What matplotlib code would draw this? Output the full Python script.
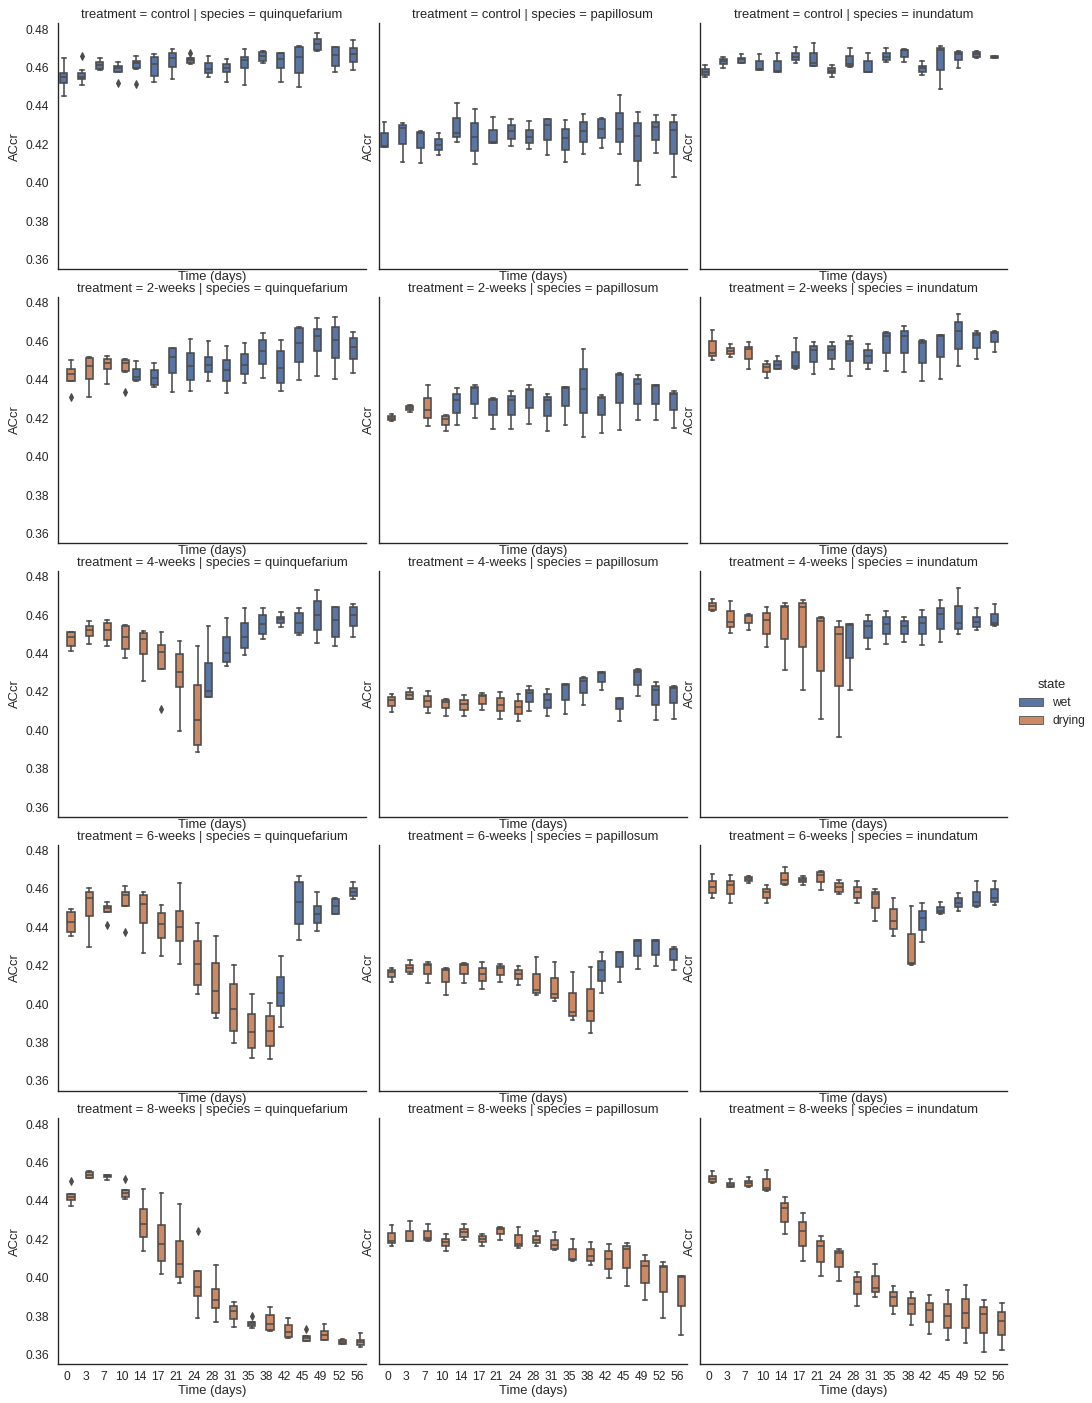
import colorsys

import matplotlib
matplotlib.use("Agg")
import matplotlib.pyplot as plt
from matplotlib.patches import Patch
from matplotlib.ticker import FormatStrFormatter

# ---------------------------------------------------------------------------
# Data: ACcr box statistics (whislo, q1, median, q3, whishi) per sampling day
# ---------------------------------------------------------------------------
days = [0, 3, 7, 10, 14, 17, 21, 24, 28, 31, 35, 38, 42, 45, 49, 52, 56]
treatments = ["control", "2-weeks", "4-weeks", "6-weeks", "8-weeks"]
species = ["quinquefarium", "papillosum", "inundatum"]
states = ["wet", "drying"]

# last day on which each treatment was still in the drying state
last_drying_day = {"control": None, "2-weeks": 10, "4-weeks": 24,
                   "6-weeks": 38, "8-weeks": 56}

control_quinquefarium = [
    (0.4452, 0.4518, 0.4548, 0.4574, 0.4649),
    (0.4510, 0.4539, 0.4553, 0.4574, 0.4588),
    (0.4588, 0.4593, 0.4612, 0.4628, 0.4649),
    (0.4575, 0.4579, 0.4600, 0.4609, 0.4630),
    (0.4593, 0.4597, 0.4626, 0.4635, 0.4661),
    (0.4523, 0.4558, 0.4617, 0.4657, 0.4671),
    (0.4539, 0.4605, 0.4652, 0.4675, 0.4696),
    (0.4619, 0.4623, 0.4638, 0.4647, 0.4649),
    (0.4550, 0.4570, 0.4593, 0.4623, 0.4661),
    (0.4527, 0.4579, 0.4595, 0.4617, 0.4645),
    (0.4510, 0.4597, 0.4640, 0.4657, 0.4696),
    (0.4623, 0.4635, 0.4661, 0.4680, 0.4684),
    (0.4527, 0.4595, 0.4643, 0.4675, 0.4678),
    (0.4497, 0.4574, 0.4654, 0.4709, 0.4714),
    (0.4687, 0.4692, 0.4723, 0.4748, 0.4777),
    (0.4579, 0.4609, 0.4663, 0.4706, 0.4709),
    (0.4588, 0.4630, 0.4670, 0.4704, 0.4744),
]

control_papillosum = [
    (0.4188, 0.4188, 0.4193, 0.4257, 0.4317),
    (0.4110, 0.4200, 0.4287, 0.4299, 0.4313),
    (0.4101, 0.4183, 0.4257, 0.4266, 0.4270),
    (0.4146, 0.4170, 0.4197, 0.4226, 0.4257),
    (0.4210, 0.4237, 0.4261, 0.4337, 0.4414),
    (0.4097, 0.4165, 0.4240, 0.4311, 0.4386),
    (0.4205, 0.4205, 0.4214, 0.4275, 0.4341),
    (0.4193, 0.4228, 0.4270, 0.4299, 0.4334),
    (0.4177, 0.4205, 0.4240, 0.4277, 0.4322),
    (0.4146, 0.4223, 0.4301, 0.4330, 0.4332),
    (0.4106, 0.4170, 0.4233, 0.4282, 0.4325),
    (0.4151, 0.4210, 0.4271, 0.4317, 0.4360),
    (0.4183, 0.4231, 0.4282, 0.4332, 0.4337),
    (0.4151, 0.4214, 0.4278, 0.4365, 0.4456),
    (0.3991, 0.4115, 0.4243, 0.4310, 0.4369),
    (0.4157, 0.4223, 0.4292, 0.4318, 0.4351),
    (0.4028, 0.4150, 0.4275, 0.4317, 0.4355),
]

control_inundatum = [
    (0.4553, 0.4562, 0.4579, 0.4591, 0.4614),
    (0.4600, 0.4617, 0.4633, 0.4643, 0.4654),
    (0.4623, 0.4624, 0.4643, 0.4652, 0.4670),
    (0.4588, 0.4588, 0.4593, 0.4635, 0.4670),
    (0.4576, 0.4576, 0.4583, 0.4635, 0.4676),
    (0.4623, 0.4638, 0.4657, 0.4678, 0.4705),
    (0.4609, 0.4609, 0.4623, 0.4675, 0.4725),
    (0.4553, 0.4569, 0.4584, 0.4597, 0.4612),
    (0.4604, 0.4609, 0.4619, 0.4661, 0.4701),
    (0.4576, 0.4576, 0.4579, 0.4635, 0.4676),
    (0.4628, 0.4640, 0.4654, 0.4675, 0.4701),
    (0.4631, 0.4657, 0.4689, 0.4692, 0.4697),
    (0.4562, 0.4579, 0.4597, 0.4610, 0.4635),
    (0.4487, 0.4588, 0.4692, 0.4704, 0.4710),
    (0.4600, 0.4637, 0.4671, 0.4680, 0.4684),
    (0.4649, 0.4654, 0.4670, 0.4680, 0.4684),
    (0.4649, 0.4649, 0.4657, 0.4661, 0.4661),
]

weeks2_quinquefarium = [
    (0.4394, 0.4395, 0.4432, 0.4455, 0.4502),
    (0.4308, 0.4402, 0.4470, 0.4514, 0.4519),
    (0.4376, 0.4455, 0.4486, 0.4507, 0.4524),
    (0.4442, 0.4444, 0.4486, 0.4503, 0.4507),
    (0.4395, 0.4399, 0.4416, 0.4455, 0.4498),
    (0.4364, 0.4371, 0.4411, 0.4451, 0.4486),
    (0.4338, 0.4437, 0.4516, 0.4563, 0.4566),
    (0.4341, 0.4399, 0.4469, 0.4538, 0.4612),
    (0.4392, 0.4441, 0.4479, 0.4516, 0.4599),
    (0.4329, 0.4392, 0.4448, 0.4502, 0.4577),
    (0.4385, 0.4430, 0.4479, 0.4533, 0.4589),
    (0.4411, 0.4481, 0.4551, 0.4605, 0.4641),
    (0.4341, 0.4385, 0.4463, 0.4547, 0.4608),
    (0.4399, 0.4490, 0.4591, 0.4667, 0.4673),
    (0.4420, 0.4551, 0.4626, 0.4664, 0.4722),
    (0.4402, 0.4512, 0.4606, 0.4673, 0.4728),
    (0.4435, 0.4507, 0.4568, 0.4615, 0.4647),
]

weeks2_papillosum = [
    (0.4184, 0.4189, 0.4202, 0.4210, 0.4223),
    (0.4231, 0.4242, 0.4254, 0.4261, 0.4266),
    (0.4158, 0.4202, 0.4242, 0.4306, 0.4371),
    (0.4132, 0.4165, 0.4196, 0.4210, 0.4214),
    (0.4163, 0.4228, 0.4294, 0.4327, 0.4359),
    (0.4200, 0.4275, 0.4357, 0.4364, 0.4371),
    (0.4144, 0.4217, 0.4294, 0.4298, 0.4303),
    (0.4144, 0.4217, 0.4292, 0.4315, 0.4340),
    (0.4167, 0.4252, 0.4346, 0.4353, 0.4371),
    (0.4135, 0.4210, 0.4294, 0.4308, 0.4327),
    (0.4163, 0.4261, 0.4359, 0.4362, 0.4362),
    (0.4102, 0.4228, 0.4350, 0.4455, 0.4559),
    (0.4121, 0.4217, 0.4305, 0.4312, 0.4319),
    (0.4139, 0.4280, 0.4425, 0.4432, 0.4437),
    (0.4190, 0.4275, 0.4380, 0.4402, 0.4423),
    (0.4188, 0.4275, 0.4367, 0.4371, 0.4373),
    (0.4151, 0.4242, 0.4326, 0.4333, 0.4340),
]

weeks2_inundatum = [
    (0.4502, 0.4521, 0.4538, 0.4599, 0.4660),
    (0.4516, 0.4533, 0.4549, 0.4563, 0.4584),
    (0.4458, 0.4507, 0.4559, 0.4572, 0.4594),
    (0.4408, 0.4440, 0.4464, 0.4484, 0.4498),
    (0.4457, 0.4458, 0.4479, 0.4495, 0.4524),
    (0.4458, 0.4462, 0.4472, 0.4545, 0.4615),
    (0.4428, 0.4493, 0.4554, 0.4573, 0.4598),
    (0.4458, 0.4507, 0.4554, 0.4575, 0.4598),
    (0.4420, 0.4498, 0.4585, 0.4603, 0.4629),
    (0.4455, 0.4488, 0.4521, 0.4554, 0.4585),
    (0.4446, 0.4537, 0.4629, 0.4641, 0.4647),
    (0.4441, 0.4537, 0.4629, 0.4655, 0.4681),
    (0.4392, 0.4488, 0.4591, 0.4601, 0.4608),
    (0.4404, 0.4519, 0.4629, 0.4633, 0.4634),
    (0.4469, 0.4559, 0.4652, 0.4699, 0.4744),
    (0.4507, 0.4565, 0.4633, 0.4641, 0.4655),
    (0.4545, 0.4594, 0.4643, 0.4648, 0.4652),
]

weeks4_quinquefarium = [
    (0.4414, 0.4438, 0.4483, 0.4513, 0.4513),
    (0.4450, 0.4490, 0.4522, 0.4544, 0.4567),
    (0.4438, 0.4471, 0.4520, 0.4560, 0.4574),
    (0.4377, 0.4421, 0.4487, 0.4543, 0.4548),
    (0.4259, 0.4395, 0.4473, 0.4504, 0.4518),
    (0.4320, 0.4320, 0.4407, 0.4443, 0.4510),
    (0.3995, 0.4223, 0.4304, 0.4397, 0.4464),
    (0.3887, 0.3922, 0.4054, 0.4235, 0.4438),
    (0.4174, 0.4174, 0.4207, 0.4348, 0.4544),
    (0.4334, 0.4353, 0.4402, 0.4483, 0.4586),
    (0.4391, 0.4426, 0.4487, 0.4560, 0.4635),
    (0.4475, 0.4503, 0.4551, 0.4598, 0.4638),
    (0.4539, 0.4557, 0.4579, 0.4591, 0.4617),
    (0.4496, 0.4506, 0.4560, 0.4612, 0.4638),
    (0.4454, 0.4522, 0.4600, 0.4673, 0.4732),
    (0.4438, 0.4487, 0.4572, 0.4640, 0.4642),
    (0.4487, 0.4544, 0.4600, 0.4640, 0.4657),
]

weeks4_papillosum = [
    (0.4096, 0.4127, 0.4158, 0.4174, 0.4191),
    (0.4162, 0.4162, 0.4183, 0.4197, 0.4221),
    (0.4092, 0.4120, 0.4151, 0.4177, 0.4207),
    (0.4075, 0.4117, 0.4148, 0.4160, 0.4162),
    (0.4075, 0.4108, 0.4139, 0.4160, 0.4183),
    (0.4104, 0.4137, 0.4179, 0.4186, 0.4195),
    (0.4061, 0.4099, 0.4134, 0.4169, 0.4200),
    (0.4047, 0.4083, 0.4120, 0.4153, 0.4191),
    (0.4099, 0.4148, 0.4195, 0.4212, 0.4230),
    (0.4075, 0.4117, 0.4160, 0.4191, 0.4217),
    (0.4083, 0.4157, 0.4235, 0.4242, 0.4243),
    (0.4130, 0.4195, 0.4259, 0.4271, 0.4278),
    (0.4210, 0.4252, 0.4297, 0.4301, 0.4304),
    (0.4049, 0.4110, 0.4163, 0.4169, 0.4170),
    (0.4177, 0.4238, 0.4304, 0.4313, 0.4318),
    (0.4056, 0.4132, 0.4210, 0.4230, 0.4249),
    (0.4061, 0.4143, 0.4221, 0.4226, 0.4230),
]

weeks4_inundatum = [
    (0.4621, 0.4626, 0.4649, 0.4661, 0.4682),
    (0.4508, 0.4536, 0.4565, 0.4621, 0.4673),
    (0.4520, 0.4557, 0.4597, 0.4600, 0.4603),
    (0.4431, 0.4499, 0.4574, 0.4609, 0.4642),
    (0.4313, 0.4473, 0.4640, 0.4649, 0.4661),
    (0.4210, 0.4431, 0.4643, 0.4661, 0.4678),
    (0.4057, 0.4311, 0.4570, 0.4583, 0.4591),
    (0.3963, 0.4231, 0.4499, 0.4536, 0.4570),
    (0.4210, 0.4377, 0.4548, 0.4551, 0.4555),
    (0.4423, 0.4478, 0.4543, 0.4569, 0.4600),
    (0.4447, 0.4499, 0.4553, 0.4588, 0.4621),
    (0.4457, 0.4503, 0.4544, 0.4569, 0.4591),
    (0.4443, 0.4499, 0.4557, 0.4591, 0.4624),
    (0.4457, 0.4527, 0.4603, 0.4638, 0.4678),
    (0.4499, 0.4527, 0.4560, 0.4649, 0.4739),
    (0.4523, 0.4537, 0.4565, 0.4590, 0.4635),
    (0.4543, 0.4548, 0.4557, 0.4605, 0.4656),
]

weeks6_quinquefarium = [
    (0.4353, 0.4374, 0.4428, 0.4477, 0.4497),
    (0.4298, 0.4458, 0.4551, 0.4585, 0.4606),
    (0.4481, 0.4481, 0.4502, 0.4512, 0.4533),
    (0.4512, 0.4512, 0.4568, 0.4584, 0.4612),
    (0.4266, 0.4420, 0.4519, 0.4566, 0.4584),
    (0.4249, 0.4346, 0.4416, 0.4472, 0.4517),
    (0.4210, 0.4326, 0.4399, 0.4483, 0.4629),
    (0.4050, 0.4101, 0.4207, 0.4329, 0.4420),
    (0.3926, 0.3952, 0.4066, 0.4216, 0.4355),
    (0.3795, 0.3862, 0.3975, 0.4102, 0.4203),
    (0.3719, 0.3774, 0.3855, 0.3949, 0.4053),
    (0.3715, 0.3783, 0.3862, 0.3940, 0.4005),
    (0.3883, 0.3989, 0.4060, 0.4141, 0.4249),
    (0.4333, 0.4415, 0.4530, 0.4633, 0.4664),
    (0.4381, 0.4423, 0.4467, 0.4510, 0.4584),
    (0.4469, 0.4469, 0.4509, 0.4547, 0.4554),
    (0.4545, 0.4563, 0.4585, 0.4605, 0.4633),
]

weeks6_papillosum = [
    (0.4115, 0.4141, 0.4167, 0.4177, 0.4188),
    (0.4158, 0.4167, 0.4188, 0.4205, 0.4228),
    (0.4109, 0.4158, 0.4202, 0.4210, 0.4219),
    (0.4045, 0.4115, 0.4179, 0.4184, 0.4186),
    (0.4109, 0.4158, 0.4203, 0.4210, 0.4214),
    (0.4080, 0.4118, 0.4155, 0.4190, 0.4221),
    (0.4115, 0.4151, 0.4190, 0.4196, 0.4209),
    (0.4099, 0.4130, 0.4158, 0.4179, 0.4198),
    (0.4045, 0.4059, 0.4074, 0.4158, 0.4245),
    (0.4015, 0.4033, 0.4050, 0.4137, 0.4221),
    (0.3919, 0.3940, 0.3958, 0.4060, 0.4167),
    (0.3851, 0.3910, 0.3966, 0.4078, 0.4193),
    (0.4060, 0.4118, 0.4176, 0.4224, 0.4270),
    (0.4115, 0.4193, 0.4270, 0.4273, 0.4273),
    (0.4183, 0.4249, 0.4327, 0.4333, 0.4333),
    (0.4196, 0.4256, 0.4327, 0.4333, 0.4334),
    (0.4179, 0.4231, 0.4284, 0.4289, 0.4298),
]

weeks6_inundatum = [
    (0.4554, 0.4580, 0.4608, 0.4641, 0.4678),
    (0.4528, 0.4572, 0.4617, 0.4641, 0.4669),
    (0.4629, 0.4638, 0.4650, 0.4660, 0.4667),
    (0.4528, 0.4554, 0.4585, 0.4598, 0.4617),
    (0.4617, 0.4626, 0.4643, 0.4681, 0.4713),
    (0.4620, 0.4633, 0.4647, 0.4655, 0.4667),
    (0.4592, 0.4633, 0.4673, 0.4685, 0.4692),
    (0.4572, 0.4585, 0.4608, 0.4629, 0.4647),
    (0.4528, 0.4554, 0.4585, 0.4608, 0.4638),
    (0.4434, 0.4500, 0.4573, 0.4585, 0.4598),
    (0.4355, 0.4392, 0.4430, 0.4493, 0.4554),
    (0.4202, 0.4207, 0.4214, 0.4362, 0.4510),
    (0.4324, 0.4385, 0.4448, 0.4486, 0.4528),
    (0.4467, 0.4472, 0.4486, 0.4503, 0.4533),
    (0.4486, 0.4507, 0.4528, 0.4551, 0.4577),
    (0.4503, 0.4510, 0.4533, 0.4584, 0.4638),
    (0.4516, 0.4530, 0.4554, 0.4598, 0.4638),
]

weeks8_quinquefarium = [
    (0.4374, 0.4405, 0.4419, 0.4435, 0.4435),
    (0.4518, 0.4521, 0.4535, 0.4552, 0.4558),
    (0.4509, 0.4526, 0.4530, 0.4535, 0.4535),
    (0.4409, 0.4423, 0.4440, 0.4457, 0.4457),
    (0.4137, 0.4211, 0.4281, 0.4357, 0.4461),
    (0.4021, 0.4090, 0.4175, 0.4275, 0.4440),
    (0.3972, 0.4003, 0.4073, 0.4192, 0.4384),
    (0.3790, 0.3903, 0.3952, 0.4036, 0.4036),
    (0.3768, 0.3842, 0.3886, 0.3943, 0.4069),
    (0.3742, 0.3787, 0.3825, 0.3851, 0.3872),
    (0.3737, 0.3747, 0.3759, 0.3768, 0.3768),
    (0.3725, 0.3726, 0.3761, 0.3804, 0.3849),
    (0.3688, 0.3692, 0.3718, 0.3752, 0.3790),
    (0.3669, 0.3673, 0.3687, 0.3695, 0.3695),
    (0.3674, 0.3678, 0.3704, 0.3725, 0.3761),
    (0.3654, 0.3657, 0.3666, 0.3674, 0.3683),
    (0.3640, 0.3652, 0.3664, 0.3678, 0.3713),
]

weeks8_papillosum = [
    (0.4168, 0.4180, 0.4189, 0.4232, 0.4274),
    (0.4189, 0.4189, 0.4189, 0.4241, 0.4298),
    (0.4194, 0.4197, 0.4206, 0.4246, 0.4282),
    (0.4142, 0.4163, 0.4184, 0.4201, 0.4229),
    (0.4197, 0.4211, 0.4236, 0.4253, 0.4281),
    (0.4166, 0.4185, 0.4201, 0.4218, 0.4229),
    (0.4197, 0.4227, 0.4256, 0.4261, 0.4263),
    (0.4154, 0.4163, 0.4177, 0.4222, 0.4267),
    (0.4163, 0.4180, 0.4197, 0.4218, 0.4246),
    (0.4145, 0.4149, 0.4171, 0.4197, 0.4239),
    (0.4090, 0.4093, 0.4097, 0.4149, 0.4203),
    (0.4068, 0.4090, 0.4114, 0.4149, 0.4185),
    (0.3998, 0.4047, 0.4097, 0.4137, 0.4177),
    (0.3958, 0.4050, 0.4149, 0.4166, 0.4180),
    (0.3882, 0.3972, 0.4059, 0.4087, 0.4118),
    (0.3792, 0.3924, 0.4054, 0.4064, 0.4080),
    (0.3704, 0.3851, 0.4002, 0.4007, 0.4010),
]

weeks8_inundatum = [
    (0.4492, 0.4500, 0.4514, 0.4530, 0.4558),
    (0.4471, 0.4471, 0.4483, 0.4495, 0.4514),
    (0.4471, 0.4478, 0.4492, 0.4506, 0.4523),
    (0.4454, 0.4457, 0.4466, 0.4516, 0.4561),
    (0.4227, 0.4289, 0.4362, 0.4388, 0.4419),
    (0.4088, 0.4166, 0.4242, 0.4289, 0.4336),
    (0.4007, 0.4083, 0.4166, 0.4189, 0.4215),
    (0.3986, 0.4055, 0.4128, 0.4137, 0.4149),
    (0.3855, 0.3915, 0.3977, 0.4002, 0.4031),
    (0.3898, 0.3924, 0.3946, 0.4007, 0.4073),
    (0.3811, 0.3855, 0.3900, 0.3926, 0.3958),
    (0.3752, 0.3810, 0.3863, 0.3893, 0.3926),
    (0.3707, 0.3768, 0.3834, 0.3870, 0.3908),
    (0.3674, 0.3737, 0.3799, 0.3865, 0.3934),
    (0.3661, 0.3737, 0.3815, 0.3889, 0.3964),
    (0.3612, 0.3713, 0.3813, 0.3846, 0.3882),
    (0.3626, 0.3700, 0.3773, 0.3823, 0.3867),
]

# outlying observations, keyed by sampling day
outliers_control_quinquefarium = {3: [0.4661], 10: [0.4518], 14: [0.4515], 24: [0.4678]}
outliers_weeks2_quinquefarium = {0: [0.4308], 10: [0.4336]}
outliers_weeks4_quinquefarium = {17: [0.4111]}
outliers_weeks6_quinquefarium = {7: [0.4411], 10: [0.4376]}
outliers_weeks8_quinquefarium = {0: [0.4506], 10: [0.4514], 24: [0.4246],
                                 35: [0.3803], 45: [0.3733]}

box_stats = {
    ("control", "quinquefarium"): control_quinquefarium,
    ("control", "papillosum"): control_papillosum,
    ("control", "inundatum"): control_inundatum,
    ("2-weeks", "quinquefarium"): weeks2_quinquefarium,
    ("2-weeks", "papillosum"): weeks2_papillosum,
    ("2-weeks", "inundatum"): weeks2_inundatum,
    ("4-weeks", "quinquefarium"): weeks4_quinquefarium,
    ("4-weeks", "papillosum"): weeks4_papillosum,
    ("4-weeks", "inundatum"): weeks4_inundatum,
    ("6-weeks", "quinquefarium"): weeks6_quinquefarium,
    ("6-weeks", "papillosum"): weeks6_papillosum,
    ("6-weeks", "inundatum"): weeks6_inundatum,
    ("8-weeks", "quinquefarium"): weeks8_quinquefarium,
    ("8-weeks", "papillosum"): weeks8_papillosum,
    ("8-weeks", "inundatum"): weeks8_inundatum,
}
outliers = {
    ("control", "quinquefarium"): outliers_control_quinquefarium,
    ("2-weeks", "quinquefarium"): outliers_weeks2_quinquefarium,
    ("4-weeks", "quinquefarium"): outliers_weeks4_quinquefarium,
    ("6-weeks", "quinquefarium"): outliers_weeks6_quinquefarium,
    ("8-weeks", "quinquefarium"): outliers_weeks8_quinquefarium,
}

# ---------------------------------------------------------------------------
# Style
# ---------------------------------------------------------------------------
plt.rcParams.update({
    "font.family": ["Liberation Sans", "DejaVu Sans"],
    "font.size": 13,
    "axes.labelsize": 13,
    "axes.titlesize": 13,
    "xtick.labelsize": 12,
    "ytick.labelsize": 12,
    "legend.fontsize": 12,
    "legend.title_fontsize": 13,
    "text.color": ".15",
    "axes.labelcolor": ".15",
    "xtick.color": ".15",
    "ytick.color": ".15",
    "axes.edgecolor": ".15",
    "axes.linewidth": 1.35,
    "xtick.major.size": 6,
    "ytick.major.size": 6,
    "xtick.major.pad": 1.0,
    "ytick.major.pad": 3.5,
    "xtick.bottom": False,
    "ytick.left": False,
})


def desaturate(rgb, prop):
    h, l, s = colorsys.rgb_to_hls(*rgb)
    return colorsys.hls_to_rgb(h, l, s * prop)


deep_blue = (0.2980, 0.4471, 0.6902)
deep_orange = (0.8667, 0.5176, 0.3216)
state_colors = {"wet": desaturate(deep_blue, 0.75),
                "drying": desaturate(deep_orange, 0.75)}
lum = min(colorsys.rgb_to_hls(*c)[1] for c in state_colors.values()) * 0.6
gray = (lum, lum, lum)
line_w = 1.6
box_w = 0.8 / len(states) * 0.98
offsets = {"wet": -0.2, "drying": 0.2}

# ---------------------------------------------------------------------------
# Figure
# ---------------------------------------------------------------------------
W, H = 1092, 1403
fig = plt.figure(figsize=(W / 72, H / 72), dpi=72)
axes = fig.subplots(
    len(treatments), len(species), sharex=True, sharey=True,
    gridspec_kw=dict(left=58.3 / W, right=1007.3 / W,
                     top=1 - 23.3 / H, bottom=1 - 1364.3 / H,
                     wspace=0.0425, hspace=0.1128),
)

for r, trt in enumerate(treatments):
    for c, sp in enumerate(species):
        ax = axes[r, c]
        stats_list = box_stats[(trt, sp)]
        extra = outliers.get((trt, sp), {})
        last_dry = last_drying_day[trt]
        for i, (day, st) in enumerate(zip(days, stats_list)):
            state = "drying" if (last_dry is not None and day <= last_dry) else "wet"
            lo, q1, med, q3, hi = st
            color = state_colors[state]
            ax.bxp(
                [dict(whislo=lo, q1=q1, med=med, q3=q3, whishi=hi,
                      fliers=extra.get(day, []))],
                positions=[i + offsets[state]], widths=box_w,
                patch_artist=True, manage_ticks=False,
                boxprops=dict(facecolor=color, edgecolor=gray,
                              linewidth=line_w, zorder=0.9),
                medianprops=dict(color=gray, linewidth=line_w),
                whiskerprops=dict(color=gray, linewidth=line_w),
                capprops=dict(color=gray, linewidth=line_w),
                flierprops=dict(marker="d", markerfacecolor=gray,
                                markeredgecolor=gray, markersize=5),
            )
        ax.set_xlim(-0.5, len(days) - 0.5)
        ax.set_ylim(0.3550, 0.4830)
        ax.set_xticks(range(len(days)))
        ax.set_xticklabels([str(d) for d in days])
        ax.set_yticks([0.36, 0.38, 0.40, 0.42, 0.44, 0.46, 0.48])
        ax.yaxis.set_major_formatter(FormatStrFormatter("%.2f"))
        ax.spines["top"].set_visible(False)
        ax.spines["right"].set_visible(False)
        ax.set_xlabel("Time (days)", labelpad=2)
        ax.set_ylabel("ACcr")
        ax.set_title(f"treatment = {trt} | species = {sp}", pad=5)

handles = [Patch(facecolor=state_colors[s], edgecolor=gray, linewidth=line_w / 2)
           for s in states]
fig.legend(handles, states, title="state", loc="center left",
           bbox_to_anchor=(1008 / W, 1 - 703 / H), frameon=False)

fig.savefig("out.png", dpi=72)
